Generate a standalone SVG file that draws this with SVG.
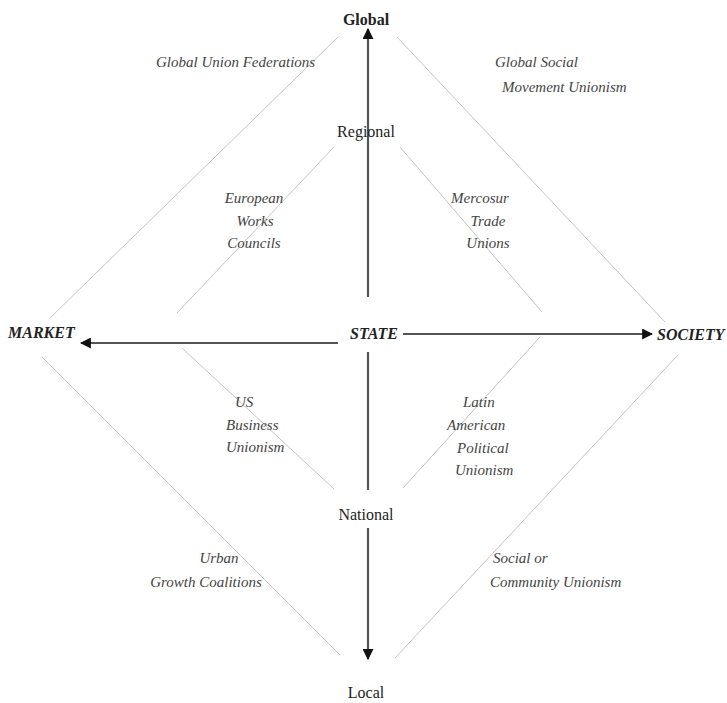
<svg xmlns="http://www.w3.org/2000/svg" width="727" height="703" viewBox="0 0 727 703">
<style>
.frame{stroke:#c4c4c4;stroke-width:1;fill:none}
.axis{stroke:#555;stroke-width:2.2;fill:none}
.lvl{font-family:"Liberation Serif",serif;font-size:16px;fill:#222;text-anchor:middle}
.pole{font-family:"Liberation Serif",serif;font-size:16px;font-weight:bold;font-style:italic;fill:#222}
.lab{font-family:"Liberation Serif",serif;font-size:15px;font-style:italic;fill:#444}
.mid{text-anchor:middle}
</style>
<defs>
<marker id="ah" viewBox="0 0 10 10" refX="9" refY="5" markerWidth="5" markerHeight="5" orient="auto" markerUnits="strokeWidth">
<path d="M0,0 L10,5 L0,10 z" fill="#111"/>
</marker>
</defs>
<rect width="727" height="703" fill="#fff"/>
<g id="connectors">
<line class="frame" x1="338" y1="37" x2="50" y2="318"/>
<line class="frame" x1="397" y1="37" x2="665" y2="322"/>
<line class="frame" x1="42" y1="357" x2="340" y2="655"/>
<line class="frame" x1="395" y1="658" x2="678" y2="355"/>
<line class="frame" x1="334" y1="147" x2="177" y2="313"/>
<line class="frame" x1="400" y1="147" x2="542" y2="312"/>
<line class="frame" x1="182" y1="348" x2="334" y2="489"/>
<line class="frame" x1="540" y1="337" x2="403" y2="488"/>
<line class="axis" x1="368" y1="297" x2="368" y2="29" marker-end="url(#ah)"/>
<line class="axis" x1="368" y1="352" x2="368" y2="490"/>
<line class="axis" x1="368" y1="528" x2="368" y2="659" marker-end="url(#ah)"/>
<line class="axis" x1="338" y1="343" x2="81" y2="343" marker-end="url(#ah)"/>
<line class="axis" x1="403" y1="334" x2="652" y2="334" marker-end="url(#ah)"/>
</g>
<g id="global"><text class="lvl" x="366" y="25" font-weight="bold">Global</text></g>
<g id="regional"><text class="lvl" x="366" y="137">Regional</text></g>
<g id="national"><text class="lvl" x="366" y="520">National</text></g>
<g id="local"><text class="lvl" x="366" y="698">Local</text></g>
<g id="market"><text class="pole" x="8" y="338">MARKET</text></g>
<g id="state"><text class="pole mid" x="374" y="339">STATE</text></g>
<g id="society"><text class="pole" x="657" y="340">SOCIETY</text></g>
<g id="guf"><text class="lab" x="156" y="67">Global Union Federations</text></g>
<g id="gsmu"><text class="lab" x="495" y="67">Global Social</text><text class="lab" x="502" y="92">Movement Unionism</text></g>
<g id="ewc"><text class="lab mid" x="254" y="203">European</text><text class="lab mid" x="255" y="226">Works</text><text class="lab mid" x="254" y="248">Councils</text></g>
<g id="mtu"><text class="lab mid" x="480" y="203">Mercosur</text><text class="lab mid" x="488" y="226">Trade</text><text class="lab mid" x="488" y="248">Unions</text></g>
<g id="usbu"><text class="lab" x="235" y="407">US</text><text class="lab" x="226" y="430">Business</text><text class="lab" x="226" y="452">Unionism</text></g>
<g id="lapu"><text class="lab" x="463" y="407">Latin</text><text class="lab" x="447" y="430">American</text><text class="lab" x="457" y="453">Political</text><text class="lab" x="455" y="475">Unionism</text></g>
<g id="ugc"><text class="lab mid" x="219" y="563">Urban</text><text class="lab mid" x="206" y="587">Growth Coalitions</text></g>
<g id="scu"><text class="lab" x="493" y="563">Social or</text><text class="lab" x="490" y="587">Community Unionism</text></g>
</svg>
